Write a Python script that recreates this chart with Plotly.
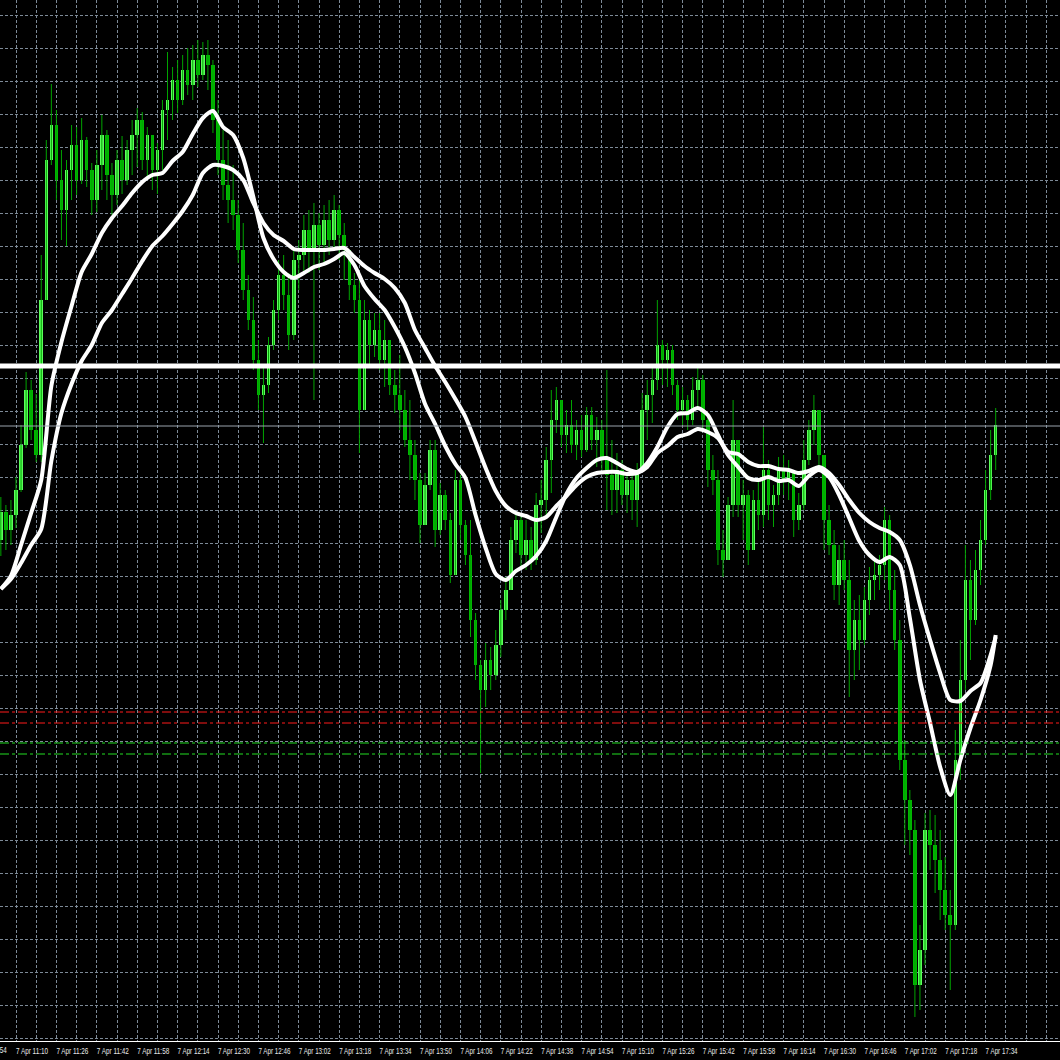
import pandas as pd
import plotly.graph_objects as go

# ---------------- data (7 Apr, 2-minute bars starting 11:04) ----------------
day = "2020-04-07"
first_bar = "11:04"

open_ = [1.08460,1.08488,1.08470,1.08485,1.08510,1.08555,1.08610,1.08570,1.08545,1.08700,
 1.08840,1.08875,1.08820,1.08790,1.08830,1.08855,1.08820,1.08860,1.08830,1.08800,
 1.08835,1.08865,1.08825,1.08805,1.08840,1.08820,1.08850,1.08865,1.08880,1.08840,
 1.08865,1.08830,1.08850,1.08890,1.08900,1.08920,1.08900,1.08930,1.08915,1.08940,
 1.08925,1.08945,1.08935,1.08880,1.08840,1.08815,1.08800,1.08785,1.08750,1.08710,
 1.08680,1.08640,1.08605,1.08615,1.08655,1.08690,1.08725,1.08705,1.08665,1.08740,
 1.08745,1.08770,1.08750,1.08775,1.08755,1.08780,1.08760,1.08790,1.08765,1.08750,
 1.08715,1.08700,1.08590,1.08680,1.08655,1.08670,1.08640,1.08660,1.08615,1.08605,
 1.08590,1.08560,1.08545,1.08520,1.08475,1.08515,1.08550,1.08470,1.08505,1.08480,
 1.08425,1.08520,1.08475,1.08445,1.08380,1.08335,1.08310,1.08340,1.08325,1.08355,
 1.08390,1.08410,1.08460,1.08480,1.08445,1.08460,1.08440,1.08495,1.08500,1.08540,
 1.08580,1.08600,1.08565,1.08575,1.08555,1.08570,1.08550,1.08585,1.08560,1.08570,
 1.08540,1.08525,1.08510,1.08530,1.08505,1.08520,1.08500,1.08530,1.08590,1.08605,
 1.08620,1.08655,1.08640,1.08650,1.08615,1.08590,1.08600,1.08580,1.08610,1.08620,
 1.08580,1.08530,1.08520,1.08450,1.08440,1.08495,1.08560,1.08495,1.08505,1.08450,
 1.08500,1.08485,1.08530,1.08495,1.08505,1.08530,1.08520,1.08530,1.08480,1.08495,
 1.08540,1.08570,1.08590,1.08545,1.08480,1.08455,1.08415,1.08440,1.08420,1.08350,
 1.08380,1.08360,1.08400,1.08420,1.08425,1.08435,1.08480,1.08410,1.08360,1.08240,
 1.08200,1.08170,1.08015,1.08050,1.08170,1.08155,1.08140,1.08110,1.08085,1.08075,
 1.08240,1.08320,1.08420,1.08380,1.08430,1.08460,1.08510,1.08545]

high = [1.08503,1.08495,1.08500,1.08523,1.08575,1.08628,1.08620,1.08606,1.08745,1.08860,
 1.08916,1.08890,1.08850,1.08840,1.08875,1.08873,1.08882,1.08863,1.08837,1.08850,
 1.08885,1.08870,1.08837,1.08850,1.08864,1.08860,1.08880,1.08892,1.08888,1.08873,
 1.08865,1.08857,1.08900,1.08948,1.08933,1.08940,1.08945,1.08952,1.08955,1.08960,
 1.08958,1.08960,1.08940,1.08900,1.08870,1.08860,1.08835,1.08800,1.08777,1.08725,
 1.08703,1.08660,1.08633,1.08663,1.08700,1.08740,1.08745,1.08727,1.08753,1.08760,
 1.08785,1.08790,1.08797,1.08787,1.08795,1.08800,1.08805,1.08795,1.08777,1.08750,
 1.08727,1.08720,1.08700,1.08690,1.08687,1.08687,1.08680,1.08660,1.08630,1.08645,
 1.08610,1.08600,1.08560,1.08527,1.08527,1.08560,1.08560,1.08517,1.08510,1.08487,
 1.08530,1.08525,1.08480,1.08480,1.08387,1.08340,1.08357,1.08353,1.08370,1.08400,
 1.08423,1.08473,1.08487,1.08485,1.08480,1.08473,1.08507,1.08520,1.08553,1.08610,
 1.08613,1.08600,1.08590,1.08600,1.08580,1.08585,1.08593,1.08593,1.08583,1.08580,
 1.08630,1.08560,1.08547,1.08540,1.08527,1.08530,1.08537,1.08607,1.08620,1.08633,
 1.08700,1.08660,1.08657,1.08655,1.08620,1.08613,1.08605,1.08623,1.08632,1.08625,
 1.08587,1.08545,1.08530,1.08470,1.08503,1.08600,1.08560,1.08520,1.08510,1.08510,
 1.08520,1.08573,1.08540,1.08515,1.08543,1.08545,1.08540,1.08530,1.08507,1.08560,
 1.08580,1.08605,1.08590,1.08545,1.08495,1.08470,1.08455,1.08460,1.08440,1.08400,
 1.08405,1.08413,1.08433,1.08440,1.08445,1.08493,1.08485,1.08430,1.08380,1.08260,
 1.08210,1.08180,1.08075,1.08187,1.08190,1.08185,1.08170,1.08143,1.08110,1.08270,
 1.08360,1.08455,1.08440,1.08450,1.08480,1.08530,1.08570,1.08592]

low = [1.08444,1.08450,1.08455,1.08472,1.08508,1.08552,1.08560,1.08538,1.08538,1.08700,
 1.08835,1.08800,1.08760,1.08754,1.08800,1.08805,1.08816,1.08813,1.08785,1.08788,
 1.08810,1.08800,1.08785,1.08795,1.08806,1.08815,1.08825,1.08833,1.08830,1.08820,
 1.08810,1.08806,1.08830,1.08860,1.08880,1.08887,1.08895,1.08905,1.08900,1.08913,
 1.08920,1.08910,1.08867,1.08825,1.08800,1.08777,1.08770,1.08737,1.08700,1.08670,
 1.08630,1.08590,1.08557,1.08607,1.08650,1.08680,1.08690,1.08650,1.08660,1.08710,
 1.08725,1.08727,1.08600,1.08730,1.08735,1.08745,1.08753,1.08740,1.08720,1.08700,
 1.08687,1.08547,1.08590,1.08633,1.08643,1.08630,1.08613,1.08605,1.08587,1.08570,
 1.08553,1.08520,1.08500,1.08457,1.08475,1.08510,1.08453,1.08465,1.08470,1.08417,
 1.08425,1.08460,1.08435,1.08363,1.08320,1.08227,1.08293,1.08310,1.08320,1.08343,
 1.08380,1.08410,1.08447,1.08433,1.08430,1.08430,1.08435,1.08467,1.08483,1.08507,
 1.08567,1.08553,1.08547,1.08547,1.08540,1.08543,1.08548,1.08550,1.08533,1.08530,
 1.08490,1.08485,1.08487,1.08495,1.08487,1.08480,1.08473,1.08530,1.08560,1.08577,
 1.08610,1.08615,1.08613,1.08605,1.08580,1.08575,1.08570,1.08575,1.08590,1.08570,
 1.08513,1.08505,1.08435,1.08423,1.08440,1.08483,1.08483,1.08460,1.08435,1.08450,
 1.08470,1.08473,1.08480,1.08473,1.08495,1.08505,1.08500,1.08463,1.08470,1.08490,
 1.08535,1.08555,1.08530,1.08450,1.08445,1.08400,1.08395,1.08410,1.08303,1.08320,
 1.08330,1.08355,1.08385,1.08400,1.08410,1.08420,1.08390,1.08350,1.08230,1.08155,
 1.08145,1.07983,1.07990,1.08035,1.08130,1.08107,1.08080,1.08070,1.08010,1.08070,
 1.08220,1.08310,1.08340,1.08375,1.08415,1.08455,1.08500,1.08530]

close = [1.08488,1.08470,1.08485,1.08510,1.08555,1.08610,1.08570,1.08545,1.08700,1.08840,
 1.08875,1.08820,1.08790,1.08830,1.08855,1.08820,1.08860,1.08830,1.08800,1.08835,
 1.08865,1.08825,1.08805,1.08840,1.08820,1.08850,1.08865,1.08880,1.08840,1.08865,
 1.08830,1.08850,1.08890,1.08900,1.08920,1.08900,1.08930,1.08915,1.08940,1.08925,
 1.08945,1.08935,1.08880,1.08840,1.08815,1.08800,1.08785,1.08750,1.08710,1.08680,
 1.08640,1.08605,1.08615,1.08655,1.08690,1.08725,1.08705,1.08665,1.08740,1.08745,
 1.08770,1.08750,1.08775,1.08755,1.08780,1.08760,1.08790,1.08765,1.08750,1.08715,
 1.08700,1.08590,1.08680,1.08655,1.08670,1.08640,1.08660,1.08615,1.08605,1.08590,
 1.08560,1.08545,1.08520,1.08475,1.08515,1.08550,1.08470,1.08505,1.08480,1.08425,
 1.08520,1.08475,1.08445,1.08380,1.08335,1.08310,1.08340,1.08325,1.08355,1.08390,
 1.08410,1.08460,1.08480,1.08445,1.08460,1.08440,1.08495,1.08500,1.08540,1.08580,
 1.08600,1.08565,1.08575,1.08555,1.08570,1.08550,1.08585,1.08560,1.08570,1.08540,
 1.08525,1.08510,1.08530,1.08505,1.08520,1.08500,1.08530,1.08590,1.08605,1.08620,
 1.08655,1.08640,1.08650,1.08615,1.08590,1.08600,1.08580,1.08610,1.08620,1.08580,
 1.08530,1.08520,1.08450,1.08440,1.08495,1.08560,1.08495,1.08505,1.08450,1.08500,
 1.08485,1.08530,1.08495,1.08505,1.08530,1.08520,1.08530,1.08480,1.08495,1.08540,
 1.08570,1.08590,1.08545,1.08480,1.08455,1.08415,1.08440,1.08420,1.08350,1.08380,
 1.08360,1.08400,1.08420,1.08425,1.08435,1.08480,1.08410,1.08360,1.08240,1.08200,
 1.08170,1.08015,1.08050,1.08170,1.08155,1.08140,1.08110,1.08085,1.08075,1.08240,
 1.08320,1.08420,1.08380,1.08430,1.08460,1.08510,1.08545,1.08575]

# moving averages, read every 4 minutes from 11:04 (last point at +394 min)
ma_minutes = list(range(0, 393, 4)) + [394]
fast_ma = [1.08411,1.08424,1.08455,1.08487,1.08520,1.08614,1.08658,1.08694,1.08728,1.08746,
 1.08767,1.08782,1.08794,1.08807,1.08818,1.08825,1.08827,1.08839,1.08848,1.08866,
 1.08882,1.08889,1.08873,1.08865,1.08842,1.08803,1.08762,1.08741,1.08728,1.08722,
 1.08727,1.08733,1.08736,1.08741,1.08747,1.08735,1.08714,1.08701,1.08690,1.08673,
 1.08653,1.08627,1.08596,1.08576,1.08554,1.08536,1.08522,1.08485,1.08452,1.08426,
 1.08420,1.08429,1.08435,1.08444,1.08459,1.08483,1.08506,1.08522,1.08532,1.08540,
 1.08542,1.08537,1.08531,1.08528,1.08537,1.08553,1.08573,1.08586,1.08587,1.08592,
 1.08585,1.08565,1.08545,1.08533,1.08522,1.08520,1.08523,1.08519,1.08520,1.08514,
 1.08524,1.08530,1.08523,1.08505,1.08482,1.08459,1.08445,1.08438,1.08443,1.08435,
 1.08382,1.08320,1.08277,1.08233,1.08205,1.08240,1.08272,1.08300,1.08335,1.08365]
slow_ma = [1.08411,1.08421,1.08437,1.08455,1.08471,1.08539,1.08587,1.08616,1.08639,1.08655,
 1.08677,1.08690,1.08706,1.08722,1.08739,1.08754,1.08764,1.08776,1.08789,1.08805,
 1.08827,1.08835,1.08834,1.08830,1.08820,1.08797,1.08777,1.08765,1.08759,1.08751,
 1.08750,1.08750,1.08750,1.08751,1.08752,1.08743,1.08734,1.08727,1.08721,1.08712,
 1.08697,1.08670,1.08652,1.08634,1.08618,1.08601,1.08583,1.08558,1.08532,1.08509,
 1.08494,1.08487,1.08484,1.08480,1.08483,1.08494,1.08504,1.08515,1.08523,1.08527,
 1.08528,1.08528,1.08526,1.08527,1.08533,1.08547,1.08554,1.08563,1.08566,1.08571,
 1.08568,1.08562,1.08548,1.08546,1.08538,1.08534,1.08534,1.08531,1.08530,1.08527,
 1.08529,1.08533,1.08527,1.08515,1.08500,1.08487,1.08478,1.08472,1.08468,1.08460,
 1.08435,1.08395,1.08360,1.08327,1.08300,1.08299,1.08309,1.08317,1.08345,1.08363]

# horizontal levels
level_main = 1.08634
level_grey = 1.08574
red_levels = [1.08288, 1.08277]
green_levels = [1.08257, 1.08246]

# axis labels every 16 minutes, grid every 8 minutes
label_first, label_last = "11:10", "17:34"
view_start, view_end = "11:03:39.8", "18:03:27.9"
price_lo, price_hi = 1.07959, 1.09000
grid_price0, grid_step = 1.089847, 0.00033

# ---------------- figure ----------------
n = min(len(open_), len(high), len(low), len(close))
bar_times = pd.date_range(f"{day} {first_bar}", periods=n, freq="2min")
m = min(len(ma_minutes), len(fast_ma), len(slow_ma))
ma_times = pd.Timestamp(f"{day} {first_bar}") + pd.to_timedelta(ma_minutes[:m], unit="min")
tick_times = pd.date_range(f"{day} {label_first}", f"{day} {label_last}", freq="16min")

GRID = "#7d8a97"
WICK = "#00a400"
UP = "#5cff5c"
DOWN = "#00b800"

fig = go.Figure()

wx, wy = [], []
for t, h, l in zip(bar_times, high[:n], low[:n]):
    wx += [t, t, None]
    wy += [l, h, None]
fig.add_trace(go.Scatter(x=wx, y=wy, mode="lines", line=dict(color=WICK, width=1),
                         hoverinfo="skip"))

up_i = [i for i in range(n) if close[i] >= open_[i]]
dn_i = [i for i in range(n) if close[i] < open_[i]]
for idx, col in ((dn_i, DOWN), (up_i, UP)):
    fig.add_trace(go.Bar(
        x=[bar_times[i] for i in idx],
        y=[max(abs(close[i] - open_[i]), 0.00001) for i in idx],
        base=[min(open_[i], close[i]) for i in idx],
        width=85000,
        marker=dict(color=col, line=dict(width=0)),
        hoverinfo="skip"))

for vals in (slow_ma, fast_ma):
    fig.add_trace(go.Scatter(x=ma_times, y=vals[:m], mode="lines",
                             line=dict(color="white", width=4, shape="spline", smoothing=0.7),
                             hoverinfo="skip"))

fig.add_shape(type="line", xref="paper", x0=0, x1=1, y0=level_grey, y1=level_grey,
              line=dict(color="#9aa3ad", width=1))
for lv in red_levels:
    fig.add_shape(type="line", xref="paper", x0=0, x1=1, y0=lv, y1=lv,
                  line=dict(color="#ff1a1a", width=1, dash="dashdot"))
for lv in green_levels:
    fig.add_shape(type="line", xref="paper", x0=0, x1=1, y0=lv, y1=lv,
                  line=dict(color="#22dd22", width=1, dash="dashdot"))
fig.add_shape(type="line", xref="paper", x0=0, x1=1, y0=level_main, y1=level_main,
              line=dict(color="white", width=5))

label_font = dict(family="Liberation Sans, Arial, sans-serif", size=8.5, color="#e8e8e8")
fig.add_annotation(text="7 Apr 10:54", xref="paper", yref="paper", x=-0.0085, y=0,
                   xanchor="center", yanchor="top", yshift=-2, showarrow=False, font=label_font)

fig.update_layout(
    width=1060, height=1060,
    margin=dict(l=0, r=0, t=0, b=19, pad=0, autoexpand=False),
    paper_bgcolor="black", plot_bgcolor="black",
    showlegend=False, barmode="overlay", bargap=0,
    xaxis=dict(
        type="date", range=[f"{day} {view_start}", f"{day} {view_end}"],
        tickmode="array", tickvals=tick_times, tickformat="%-d %b %H:%M",
        tickangle=0, automargin=False, ticklabelstandoff=2,
        ticklabelshift=16, tickfont=label_font, ticks="",
        showgrid=True, gridcolor=GRID, gridwidth=1, griddash="3px,2px",
        minor=dict(tick0=f"{day} 11:02", dtick=8 * 60 * 1000, showgrid=True,
                   gridcolor=GRID, gridwidth=1, griddash="3px,2px"),
        showline=True, linecolor="white", linewidth=1, zeroline=False, fixedrange=True),
    yaxis=dict(
        range=[price_lo, price_hi], tickmode="linear", tick0=grid_price0, dtick=grid_step,
        automargin=False,
        showticklabels=False, showgrid=True, gridcolor=GRID, gridwidth=1, griddash="3px,2px",
        zeroline=False, showline=False, fixedrange=True),
)

post = """
document.body.style.margin='0';
document.body.style.overflow='hidden';
document.body.style.background='black';
(function(){
  var gd = document.getElementById('{plot_id}');
  function squeeze(){
    gd.querySelectorAll('.xtick text, .annotation-text').forEach(function(t){
      t.setAttribute('textLength', '32');
      t.setAttribute('lengthAdjust', 'spacingAndGlyphs');
    });
  }
  squeeze();
  if (gd && gd.on) { gd.on('plotly_afterplot', squeeze); }
})();
"""
fig.write_html("out.html", config={"displayModeBar": False}, post_script=post)
